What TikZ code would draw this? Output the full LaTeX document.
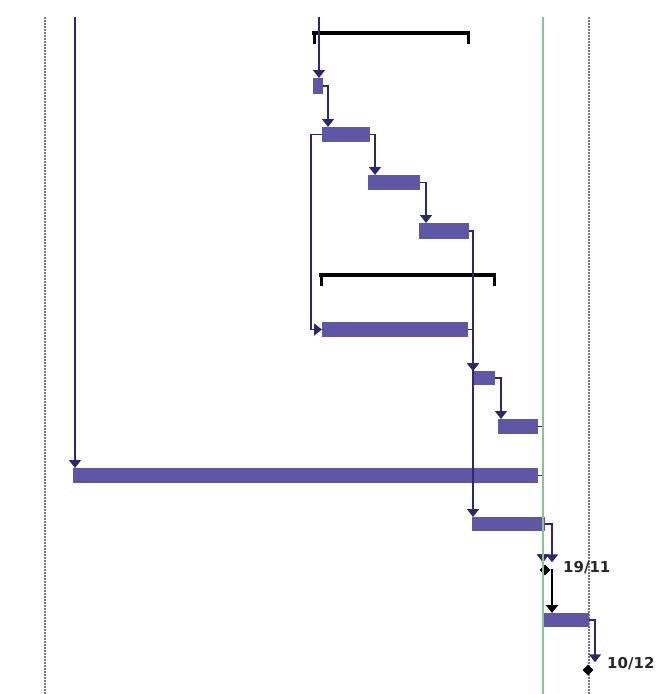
\documentclass[tikz,border=0pt]{standalone}
\usepackage{fontspec}
\newfontfamily\lblfont{DejaVu Sans}
\usetikzlibrary{arrows.meta,calc,shapes.geometric}
\definecolor{barfill}{RGB}{95,86,166}
\definecolor{conncol}{RGB}{45,40,110}
\definecolor{gridgray}{RGB}{120,120,120}
\definecolor{todaygreen}{RGB}{140,195,150}
\definecolor{lblcol}{RGB}{40,40,40}
\begin{document}
\begin{tikzpicture}[x=1pt,y=-1pt,
  bar/.style={fill=barfill, draw=none, rectangle, inner sep=0pt, outer sep=0pt, anchor=north west},
  conn/.style={draw=conncol, line width=1.8pt, -{Triangle[width=12pt,length=8pt]}},
  blackconn/.style={draw=black, line width=2pt, -{Triangle[width=12pt,length=8pt]}},
  milestone/.style={diamond, fill=black, inner sep=0pt, minimum size=11pt},
  datelbl/.style={font=\lblfont\bfseries\fontsize{15}{17}\selectfont, text=lblcol, anchor=west, inner sep=0pt},
  bracket/.style={draw=black, line width=3.5pt},
  gridline/.style={draw=gridgray, line width=1.3pt, dash pattern=on 1.5pt off 1.5pt},
  todayline/.style={draw=todaygreen, line width=1.3pt}]
\useasboundingbox[fill=white] (0,0) rectangle (662,694);

% grid lines
\draw[gridline] (45,17) -- (45,694);
\draw[gridline] (589,17) -- (589,694);

% bars
\node[bar, minimum width=10pt, minimum height=16pt] (b1) at (313,78) {};
\node[bar, minimum width=48pt, minimum height=15pt] (b2) at (322,127) {};
\node[bar, minimum width=52pt, minimum height=15pt] (b3) at (368,175) {};
\node[bar, minimum width=50pt, minimum height=16pt] (b4) at (419,223) {};
\node[bar, minimum width=146pt, minimum height=15pt] (b5) at (322,322) {};
\node[bar, minimum width=23pt, minimum height=14pt] (b6) at (472,371) {};
\node[bar, minimum width=40pt, minimum height=15pt] (b7) at (498,419) {};
\node[bar, minimum width=465pt, minimum height=15pt] (b8) at (73,468) {};
\node[bar, minimum width=73pt, minimum height=14pt] (b9) at (472,517) {};
\node[bar, minimum width=45pt, minimum height=14pt] (b10) at (544,613) {};

% milestones
\node[milestone] (m1) at (545,570) {};
\node[milestone] (m2) at (588,670) {};
\node[datelbl] (l1) at (563,568) {19/11};
\node[datelbl] (l2) at (607,664) {10/12};

% summary brackets
\draw[bracket] (312,33) -- (470,33);
\draw[line width=3pt] (314,33) -- (314,44) (468,33) -- (468,44);
\draw[bracket] (319,275) -- (496,275);
\draw[line width=3pt] (321,275) -- (321,286) (494,275) -- (494,286);

% free ends at top
\coordinate (t1) at (319,17);
\coordinate (t2) at (75,17);

% connectors
\draw[conn] (t1) -- (b1.north -| t1);
\draw[conn] (t2) -- (b8.north -| t2);
\draw[conn] (b1.east) -| ($(b2.north west)+(6,0)$);
\draw[conn] (b2.east) -| ($(b3.north west)+(7,0)$);
\draw[conn] (b3.east) -| ($(b4.north west)+(7,0)$);
\draw[conn] (b2.west) -- ++(-11,0) |- (b5.west);
\draw[conn] (b4.east) -| ($(b9.north west)+(1,0)$);
\draw[conn] (b4.east) -| ($(b6.north west)+(1,0)$);
\draw[conn] (b5.east) -| ($(b6.north west)+(1,0)$);
\draw[conn] (b6.east) -| ($(b7.north west)+(3,0)$);
\draw[conn] (b7.east) -| ($(m1.north)+(-2,-2)$);
\draw[conn] (b8.east) -| ($(m1.north)+(-2,-2)$);
\draw[conn] (b9.east) -| ($(m1.north)+(7,-2)$);
\draw[blackconn] (m1.east) -| ($(b10.north west)+(8,0)$);
\draw[conn] (b10.east) -| ($(m2.north)+(7,-2)$);

% today line
\draw[todayline] (543,17) -- (543,694);
\end{tikzpicture}
\end{document}
